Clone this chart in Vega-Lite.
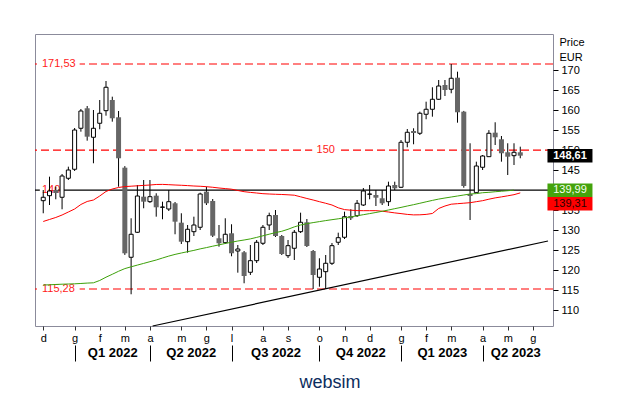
{
"$schema": "https://vega.github.io/schema/vega-lite/v6.json",
"width": 518, "height": 292,
"autosize": "none",
"padding": {"left": 35, "top": 34, "right": 74, "bottom": 67},
"background": "white",
"config": {"view": {"stroke": "#8b8b9b", "strokeWidth": 1}, "font": "Liberation Sans", "axis": {"grid": false}},
"title": {"text": "websim", "orient": "bottom", "anchor": "middle", "fontSize": 18, "font": "Liberation Sans", "fontWeight": "normal", "color": "#0c2d5e", "dx": 36, "offset": 12, "baseline": "top"},
"datasets": {
"w": [
{"d":"2021-12-03","o":137.36,"h":140.03,"l":134.21,"c":138.21,"r":132.16,"g":116.28},
{"d":"2021-12-10","o":138.61,"h":143.36,"l":136.28,"c":139.78,"r":132.66,"g":116.33},
{"d":"2021-12-17","o":140.03,"h":140.86,"l":137.71,"c":139.28,"r":133.16,"g":116.41},
{"d":"2021-12-24","o":138.21,"h":144.03,"l":135.21,"c":143.53,"r":133.78,"g":116.48},
{"d":"2021-12-31","o":142.96,"h":145.86,"l":142.53,"c":145.03,"r":134.53,"g":116.53},
{"d":"2022-01-07","o":145.21,"h":155.53,"l":144.78,"c":155.03,"r":135.28,"g":116.58},
{"d":"2022-01-14","o":155.46,"h":160.28,"l":154.61,"c":159.78,"r":136.41,"g":116.66},
{"d":"2022-01-21","o":160.46,"h":161.03,"l":152.36,"c":153.36,"r":137.16,"g":116.76},
{"d":"2022-01-28","o":153.21,"h":160.03,"l":146.71,"c":155.46,"r":137.53,"g":116.83},
{"d":"2022-02-04","o":156.71,"h":162.53,"l":155.21,"c":159.21,"r":138.53,"g":117.41},
{"d":"2022-02-11","o":159.86,"h":167.28,"l":158.61,"c":165.71,"r":139.66,"g":118.23},
{"d":"2022-02-18","o":162.53,"h":163.36,"l":157.11,"c":157.96,"r":140.28,"g":118.96},
{"d":"2022-02-25","o":158.21,"h":159.78,"l":140.86,"c":147.96,"r":140.66,"g":119.71},
{"d":"2022-03-04","o":145.61,"h":146.0,"l":123.8,"c":124.21,"r":140.88,"g":120.38},
{"d":"2022-03-11","o":123.21,"h":132.96,"l":113.96,"c":128.96,"r":140.98,"g":120.83},
{"d":"2022-03-18","o":129.46,"h":141.28,"l":129.3,"c":138.53,"r":141.08,"g":121.26},
{"d":"2022-03-25","o":138.36,"h":142.53,"l":135.46,"c":137.11,"r":141.18,"g":121.68},
{"d":"2022-04-01","o":137.11,"h":142.53,"l":136.8,"c":138.36,"r":141.28,"g":122.11},
{"d":"2022-04-08","o":138.61,"h":139.21,"l":133.36,"c":135.71,"r":141.41,"g":122.53},
{"d":"2022-04-15","o":135.71,"h":137.11,"l":132.71,"c":135.78,"r":141.43,"g":123.03},
{"d":"2022-04-22","o":135.28,"h":140.03,"l":134.78,"c":137.11,"r":141.36,"g":123.51},
{"d":"2022-04-29","o":136.71,"h":137.03,"l":128.96,"c":132.11,"r":141.28,"g":123.93},
{"d":"2022-05-06","o":131.86,"h":134.21,"l":126.53,"c":127.11,"r":141.21,"g":124.28},
{"d":"2022-05-13","o":127.11,"h":131.28,"l":124.36,"c":130.21,"r":141.13,"g":124.61},
{"d":"2022-05-20","o":129.61,"h":133.36,"l":128.53,"c":131.28,"r":141.03,"g":124.93},
{"d":"2022-05-27","o":130.71,"h":139.36,"l":130.03,"c":139.03,"r":140.96,"g":125.31},
{"d":"2022-06-03","o":139.61,"h":140.86,"l":136.28,"c":136.71,"r":140.86,"g":125.63},
{"d":"2022-06-10","o":137.28,"h":137.78,"l":128.28,"c":128.61,"r":140.71,"g":125.98},
{"d":"2022-06-17","o":127.96,"h":131.28,"l":125.86,"c":126.71,"r":140.53,"g":126.31},
{"d":"2022-06-24","o":126.86,"h":132.96,"l":126.53,"c":128.96,"r":140.38,"g":126.66},
{"d":"2022-07-01","o":129.21,"h":131.46,"l":123.46,"c":124.21,"r":140.23,"g":126.98},
{"d":"2022-07-08","o":124.78,"h":126.28,"l":119.36,"c":125.28,"r":139.91,"g":127.28},
{"d":"2022-07-15","o":124.46,"h":124.78,"l":116.71,"c":118.53,"r":139.61,"g":127.53},
{"d":"2022-07-22","o":119.46,"h":126.28,"l":118.78,"c":122.36,"r":139.43,"g":127.81},
{"d":"2022-07-29","o":122.36,"h":127.53,"l":121.78,"c":126.96,"r":139.28,"g":128.18},
{"d":"2022-08-05","o":126.71,"h":131.28,"l":126.28,"c":130.71,"r":139.11,"g":128.58},
{"d":"2022-08-12","o":131.28,"h":134.36,"l":130.03,"c":133.61,"r":139.03,"g":128.98},
{"d":"2022-08-19","o":133.78,"h":135.03,"l":128.28,"c":128.53,"r":138.96,"g":129.38},
{"d":"2022-08-26","o":128.53,"h":128.78,"l":123.78,"c":124.03,"r":138.91,"g":129.71},
{"d":"2022-09-02","o":123.61,"h":127.53,"l":123.03,"c":126.11,"r":138.83,"g":130.21},
{"d":"2022-09-09","o":125.46,"h":130.03,"l":122.53,"c":129.46,"r":138.73,"g":130.81},
{"d":"2022-09-16","o":129.61,"h":134.36,"l":129.28,"c":131.96,"r":138.33,"g":131.28},
{"d":"2022-09-23","o":131.96,"h":132.78,"l":125.78,"c":126.03,"r":137.91,"g":131.61},
{"d":"2022-09-30","o":124.78,"h":125.03,"l":115.28,"c":118.78,"r":137.53,"g":131.88},
{"d":"2022-10-07","o":118.21,"h":122.96,"l":115.86,"c":120.28,"r":137.11,"g":132.13},
{"d":"2022-10-14","o":119.61,"h":123.78,"l":115.28,"c":121.71,"r":136.71,"g":132.38},
{"d":"2022-10-21","o":121.71,"h":126.78,"l":121.28,"c":126.11,"r":136.28,"g":132.61},
{"d":"2022-10-28","o":126.96,"h":129.36,"l":126.28,"c":128.11,"r":135.58,"g":132.83},
{"d":"2022-11-04","o":128.21,"h":134.61,"l":127.78,"c":133.36,"r":135.13,"g":133.08},
{"d":"2022-11-11","o":133.53,"h":135.21,"l":132.53,"c":132.96,"r":134.98,"g":133.31},
{"d":"2022-11-18","o":133.61,"h":137.53,"l":133.28,"c":136.71,"r":134.88,"g":133.58},
{"d":"2022-11-25","o":136.28,"h":140.53,"l":136.03,"c":139.78,"r":134.86,"g":133.86},
{"d":"2022-12-02","o":138.96,"h":141.28,"l":137.71,"c":139.03,"r":134.86,"g":134.13},
{"d":"2022-12-09","o":138.78,"h":140.03,"l":136.03,"c":138.11,"r":134.86,"g":134.41},
{"d":"2022-12-16","o":137.96,"h":140.03,"l":136.28,"c":136.71,"r":134.73,"g":134.71},
{"d":"2022-12-23","o":137.11,"h":142.11,"l":136.03,"c":141.03,"r":134.53,"g":135.03},
{"d":"2022-12-30","o":141.28,"h":142.11,"l":140.03,"c":140.46,"r":134.31,"g":135.36},
{"d":"2023-01-06","o":140.71,"h":152.53,"l":140.53,"c":151.96,"r":134.13,"g":135.68},
{"d":"2023-01-13","o":151.96,"h":155.28,"l":150.71,"c":154.46,"r":133.93,"g":136.03},
{"d":"2023-01-20","o":154.78,"h":155.46,"l":151.46,"c":154.28,"r":133.81,"g":136.36},
{"d":"2023-01-27","o":154.21,"h":159.61,"l":153.78,"c":159.21,"r":133.83,"g":136.71},
{"d":"2023-02-03","o":158.96,"h":162.11,"l":157.71,"c":160.21,"r":133.93,"g":137.08},
{"d":"2023-02-10","o":160.21,"h":165.71,"l":158.36,"c":162.71,"r":134.16,"g":137.43},
{"d":"2023-02-17","o":162.71,"h":167.53,"l":162.53,"c":166.03,"r":135.41,"g":137.76},
{"d":"2023-02-24","o":166.28,"h":167.53,"l":163.53,"c":165.03,"r":136.03,"g":138.03},
{"d":"2023-03-03","o":165.21,"h":171.53,"l":164.21,"c":167.96,"r":136.48,"g":138.28},
{"d":"2023-03-10","o":168.11,"h":169.61,"l":156.86,"c":159.46,"r":136.61,"g":138.53},
{"d":"2023-03-17","o":159.61,"h":159.8,"l":140.6,"c":141.03,"r":136.73,"g":138.78},
{"d":"2023-03-24","o":139.03,"h":151.71,"l":132.53,"c":138.53,"r":136.86,"g":139.03},
{"d":"2023-03-31","o":139.36,"h":147.11,"l":139.28,"c":146.03,"r":137.11,"g":139.13},
{"d":"2023-04-07","o":145.71,"h":148.78,"l":145.03,"c":148.53,"r":137.36,"g":139.35},
{"d":"2023-04-14","o":148.36,"h":155.0,"l":148.28,"c":154.21,"r":137.73,"g":139.45},
{"d":"2023-04-21","o":154.36,"h":156.96,"l":151.28,"c":153.21,"r":138.06,"g":139.6},
{"d":"2023-04-28","o":152.71,"h":153.53,"l":147.11,"c":149.21,"r":138.31,"g":139.72},
{"d":"2023-05-05","o":149.46,"h":151.71,"l":143.78,"c":148.36,"r":138.58,"g":139.85},
{"d":"2023-05-12","o":148.61,"h":151.71,"l":146.28,"c":149.46,"r":138.86,"g":139.99},
{"d":"2023-05-19","o":149.46,"h":150.86,"l":147.96,"c":148.61,"r":139.31,"g":null}
],
"lv": [{"v":171.53},{"v":150},{"v":115.28}],
"lbl": [{"v":171.53,"t":"171,53"},{"v":115.28,"t":"115,28"},{"v":140,"t":"140"}],
"tr": [{"d":"2022-04-04","v":106.03},{"d":"2023-06-18T22:00:00Z","v":127.28}],
"one": [{}]
},
"resolve": {"axis": {"x": "independent", "y": "independent"}},
"layer": [
{"data":{"name":"lv"},"mark":{"type":"rule","color":"#ff0000","strokeDash":[8,4],"strokeWidth":1.2},
 "encoding":{"y":{"field":"v","type":"quantitative","scale":{"domain":[106.03,179.03],"nice":false,"zero":false},
   "axis":{"orient":"right","values":[110,115,120,125,130,135,145,150,155,160,165,170],"format":"d","domain":false,"tickSize":5,"tickColor":"#000000","labelColor":"#000000","labelFontSize":11,"labelPadding":3,
    "title":["Price","EUR"],"titleAngle":0,"titleAlign":"left","titleBaseline":"top","titleX":6,"titleY":2,"titleFontSize":11,"titleFontWeight":"normal","titleColor":"#000000","titleLineHeight":15}}}},
{"data":{"name":"one"},"mark":{"type":"rule","color":"#000000","strokeWidth":1.3},
 "encoding":{"y":{"datum":140,"type":"quantitative","scale":{"domain":[106.03,179.03],"nice":false,"zero":false},"axis":null}}},
{"data":{"name":"lv"},"transform":[{"filter":"datum.v != 150"}],"mark":{"type":"tick","orient":"horizontal","color":"#ffffff","size":40,"thickness":4,"opacity":1},
 "encoding":{"x":{"datum":{"year":2021,"month":12,"date":21,"hours":7,"utc":true},"type":"temporal","scale":{"type":"utc","domain":[{"year":2021,"month":11,"date":29,"hours":9,"minutes":20,"utc":true},{"year":2023,"month":6,"date":18,"hours":22,"utc":true}]},"axis":null},
 "y":{"field":"v","type":"quantitative","scale":{"domain":[106.03,179.03],"nice":false,"zero":false},"axis":null}}},
{"data":{"name":"one"},"mark":{"type":"tick","orient":"horizontal","color":"#ffffff","size":18,"thickness":4,"opacity":1},
 "encoding":{"x":{"datum":{"year":2021,"month":12,"date":9,"hours":5,"utc":true},"type":"temporal","scale":{"type":"utc","domain":[{"year":2021,"month":11,"date":29,"hours":9,"minutes":20,"utc":true},{"year":2023,"month":6,"date":18,"hours":22,"utc":true}]},"axis":null},
 "y":{"datum":140,"type":"quantitative","scale":{"domain":[106.03,179.03],"nice":false,"zero":false},"axis":null}}},
{"data":{"name":"one"},"mark":{"type":"tick","orient":"horizontal","color":"#ffffff","size":27,"thickness":4,"opacity":1},
 "encoding":{"x":{"datum":{"year":2022,"month":10,"date":14,"utc":true},"type":"temporal","scale":{"type":"utc","domain":[{"year":2021,"month":11,"date":29,"hours":9,"minutes":20,"utc":true},{"year":2023,"month":6,"date":18,"hours":22,"utc":true}]},"axis":null},
 "y":{"datum":150,"type":"quantitative","scale":{"domain":[106.03,179.03],"nice":false,"zero":false},"axis":null}}},
{"data":{"name":"lbl"},"mark":{"type":"text","color":"#ff1a1a","fontSize":11,"align":"left","baseline":"middle","dx":2},
 "encoding":{"x":{"datum":{"year":2021,"month":11,"date":29,"hours":9,"minutes":20,"utc":true},"type":"temporal","scale":{"type":"utc","domain":[{"year":2021,"month":11,"date":29,"hours":9,"minutes":20,"utc":true},{"year":2023,"month":6,"date":18,"hours":22,"utc":true}]},"axis":null},
 "y":{"field":"v","type":"quantitative","scale":{"domain":[106.03,179.03],"nice":false,"zero":false},"axis":null},
 "text":{"field":"t"}}},
{"data":{"name":"one"},"mark":{"type":"text","color":"#ff1a1a","fontSize":11,"align":"center","baseline":"middle","text":"150"},
 "encoding":{"x":{"datum":{"year":2022,"month":10,"date":14,"utc":true},"type":"temporal","scale":{"type":"utc","domain":[{"year":2021,"month":11,"date":29,"hours":9,"minutes":20,"utc":true},{"year":2023,"month":6,"date":18,"hours":22,"utc":true}]},"axis":null},
 "y":{"datum":150,"type":"quantitative","scale":{"domain":[106.03,179.03],"nice":false,"zero":false},"axis":null}}},
{"data":{"name":"w"},"mark":{"type":"rule","color":"#000000","strokeWidth":1},
 "encoding":{
  "x":{"field":"d","type":"temporal","scale":{"type":"utc","domain":[{"year":2021,"month":11,"date":29,"hours":9,"minutes":20,"utc":true},{"year":2023,"month":6,"date":18,"hours":22,"utc":true}]},
   "axis":{"orient":"bottom","title":null,"domain":false,"tickSize":4,"tickColor":"#333333","labelPadding":2,"labelFontSize":11,"labelColor":"#000000","labelFlush":false,"labelOverlap":false,"labelBound":false,
    "labelExpr":"['g','f','m','a','m','g','l','a','s','o','n','d'][utcmonth(datum.value)]",
    "values":[{"year":2021,"month":12,"date":3,"utc":true},{"year":2022,"month":1,"date":7,"utc":true},{"year":2022,"month":2,"date":4,"utc":true},{"year":2022,"month":3,"date":4,"utc":true},{"year":2022,"month":4,"date":1,"utc":true},{"year":2022,"month":5,"date":6,"utc":true},{"year":2022,"month":6,"date":3,"utc":true},{"year":2022,"month":7,"date":1,"utc":true},{"year":2022,"month":8,"date":5,"utc":true},{"year":2022,"month":9,"date":2,"utc":true},{"year":2022,"month":10,"date":7,"utc":true},{"year":2022,"month":11,"date":4,"utc":true},{"year":2022,"month":12,"date":2,"utc":true},{"year":2023,"month":1,"date":6,"utc":true},{"year":2023,"month":2,"date":3,"utc":true},{"year":2023,"month":3,"date":3,"utc":true},{"year":2023,"month":4,"date":7,"utc":true},{"year":2023,"month":5,"date":5,"utc":true},{"year":2023,"month":6,"date":2,"utc":true}]}},
  "y":{"field":"l","type":"quantitative","scale":{"domain":[106.03,179.03],"nice":false,"zero":false},"axis":null},
  "y2":{"field":"h"}}},
{"data":{"name":"w"},"transform":[{"filter":"datum.c >= datum.o"}],"mark":{"type":"bar","size":4,"fill":"#ffffff","stroke":"#000000","strokeWidth":1},
 "encoding":{"x":{"field":"d","type":"temporal","scale":{"type":"utc","domain":[{"year":2021,"month":11,"date":29,"hours":9,"minutes":20,"utc":true},{"year":2023,"month":6,"date":18,"hours":22,"utc":true}]},"axis":null},
  "y":{"field":"o","type":"quantitative","scale":{"domain":[106.03,179.03],"nice":false,"zero":false},"axis":null},"y2":{"field":"c"}}},
{"data":{"name":"w"},"transform":[{"filter":"datum.c < datum.o"}],"mark":{"type":"bar","size":5,"fill":"#666666"},
 "encoding":{"x":{"field":"d","type":"temporal","scale":{"type":"utc","domain":[{"year":2021,"month":11,"date":29,"hours":9,"minutes":20,"utc":true},{"year":2023,"month":6,"date":18,"hours":22,"utc":true}]},"axis":null},
  "y":{"field":"o","type":"quantitative","scale":{"domain":[106.03,179.03],"nice":false,"zero":false},"axis":null},"y2":{"field":"c"}}},
{"data":{"name":"w"},"mark":{"type":"line","color":"#ff0000","strokeWidth":1},
 "encoding":{"x":{"field":"d","type":"temporal","scale":{"type":"utc","domain":[{"year":2021,"month":11,"date":29,"hours":9,"minutes":20,"utc":true},{"year":2023,"month":6,"date":18,"hours":22,"utc":true}]},
   "axis":{"orient":"bottom","offset":19,"title":null,"domain":false,"labels":false,"tickSize":16,"tickColor":"#000000","tickWidth":1,
    "values":[{"year":2022,"month":1,"date":7,"utc":true},{"year":2022,"month":4,"date":1,"utc":true},{"year":2022,"month":7,"date":1,"utc":true},{"year":2022,"month":10,"date":7,"utc":true},{"year":2023,"month":1,"date":6,"utc":true},{"year":2023,"month":4,"date":7,"utc":true}]}},
  "y":{"field":"r","type":"quantitative","scale":{"domain":[106.03,179.03],"nice":false,"zero":false},"axis":null}}},
{"data":{"name":"w"},"mark":{"type":"line","color":"#3da10a","strokeWidth":1},
 "encoding":{"x":{"field":"d","type":"temporal","scale":{"type":"utc","domain":[{"year":2021,"month":11,"date":29,"hours":9,"minutes":20,"utc":true},{"year":2023,"month":6,"date":18,"hours":22,"utc":true}]},
   "axis":{"orient":"bottom","offset":19,"title":null,"domain":false,"ticks":false,"tickSize":0,"labelPadding":1,"labelFontSize":13,"labelFontWeight":"bold","labelColor":"#000000","labelFlush":false,"labelOverlap":false,"labelBound":false,
    "labelExpr":"'Q' + (floor(utcmonth(datum.value)/3)+1) + ' ' + utcyear(datum.value)",
    "values":[{"year":2022,"month":2,"date":18,"utc":true},{"year":2022,"month":5,"date":16,"hours":12,"utc":true},{"year":2022,"month":8,"date":19,"utc":true},{"year":2022,"month":11,"date":21,"hours":12,"utc":true},{"year":2023,"month":2,"date":20,"hours":12,"utc":true},{"year":2023,"month":5,"date":13,"hours":10,"utc":true}]}},
  "y":{"field":"g","type":"quantitative","scale":{"domain":[106.03,179.03],"nice":false,"zero":false},"axis":null}}},
{"data":{"name":"tr"},"mark":{"type":"line","color":"#000000","strokeWidth":1.2},
 "encoding":{"x":{"field":"d","type":"temporal","scale":{"type":"utc","domain":[{"year":2021,"month":11,"date":29,"hours":9,"minutes":20,"utc":true},{"year":2023,"month":6,"date":18,"hours":22,"utc":true}]},"axis":null},
  "y":{"field":"v","type":"quantitative","scale":{"domain":[106.03,179.03],"nice":false,"zero":false},"axis":null}}},
{"data":{"name":"one"},"mark":{"type":"tick","orient":"horizontal","color":"#000000","size":45,"thickness":13.5,"opacity":1},
 "encoding":{"x":{"datum":{"year":2023,"month":7,"date":13,"hours":10,"utc":true},"type":"temporal","scale":{"type":"utc","domain":[{"year":2021,"month":11,"date":29,"hours":9,"minutes":20,"utc":true},{"year":2023,"month":6,"date":18,"hours":22,"utc":true}]},"axis":null},
  "y":{"datum":148.61,"type":"quantitative","scale":{"domain":[106.03,179.03],"nice":false,"zero":false},"axis":null}}},
{"data":{"name":"one"},"mark":{"type":"text","color":"#ffffff","fontSize":11,"fontWeight":"bold","align":"center","baseline":"middle","text":"148,61"},
 "encoding":{"x":{"datum":{"year":2023,"month":7,"date":13,"hours":10,"utc":true},"type":"temporal","scale":{"type":"utc","domain":[{"year":2021,"month":11,"date":29,"hours":9,"minutes":20,"utc":true},{"year":2023,"month":6,"date":18,"hours":22,"utc":true}]},"axis":null},
  "y":{"datum":148.61,"type":"quantitative","scale":{"domain":[106.03,179.03],"nice":false,"zero":false},"axis":null}}},
{"data":{"name":"one"},"mark":{"type":"tick","orient":"horizontal","color":"#44a30c","size":45,"thickness":13.5,"opacity":1},
 "encoding":{"x":{"datum":{"year":2023,"month":7,"date":13,"hours":10,"utc":true},"type":"temporal","scale":{"type":"utc","domain":[{"year":2021,"month":11,"date":29,"hours":9,"minutes":20,"utc":true},{"year":2023,"month":6,"date":18,"hours":22,"utc":true}]},"axis":null},
  "y":{"datum":139.99,"type":"quantitative","scale":{"domain":[106.03,179.03],"nice":false,"zero":false},"axis":null}}},
{"data":{"name":"one"},"mark":{"type":"text","color":"#f4fff0","fontSize":11,"align":"center","baseline":"middle","text":"139,99"},
 "encoding":{"x":{"datum":{"year":2023,"month":7,"date":13,"hours":10,"utc":true},"type":"temporal","scale":{"type":"utc","domain":[{"year":2021,"month":11,"date":29,"hours":9,"minutes":20,"utc":true},{"year":2023,"month":6,"date":18,"hours":22,"utc":true}]},"axis":null},
  "y":{"datum":139.99,"type":"quantitative","scale":{"domain":[106.03,179.03],"nice":false,"zero":false},"axis":null}}},
{"data":{"name":"one"},"mark":{"type":"tick","orient":"horizontal","color":"#ff0000","size":45,"thickness":13.5,"opacity":1,"yOffset":10.8},
 "encoding":{"x":{"datum":{"year":2023,"month":7,"date":13,"hours":10,"utc":true},"type":"temporal","scale":{"type":"utc","domain":[{"year":2021,"month":11,"date":29,"hours":9,"minutes":20,"utc":true},{"year":2023,"month":6,"date":18,"hours":22,"utc":true}]},"axis":null},
  "y":{"datum":139.31,"type":"quantitative","scale":{"domain":[106.03,179.03],"nice":false,"zero":false},"axis":null}}},
{"data":{"name":"one"},"mark":{"type":"text","color":"#2a0000","fontSize":11,"align":"center","baseline":"middle","text":"139,31","yOffset":10.8},
 "encoding":{"x":{"datum":{"year":2023,"month":7,"date":13,"hours":10,"utc":true},"type":"temporal","scale":{"type":"utc","domain":[{"year":2021,"month":11,"date":29,"hours":9,"minutes":20,"utc":true},{"year":2023,"month":6,"date":18,"hours":22,"utc":true}]},"axis":null},
  "y":{"datum":139.31,"type":"quantitative","scale":{"domain":[106.03,179.03],"nice":false,"zero":false},"axis":null}}}
]
}
